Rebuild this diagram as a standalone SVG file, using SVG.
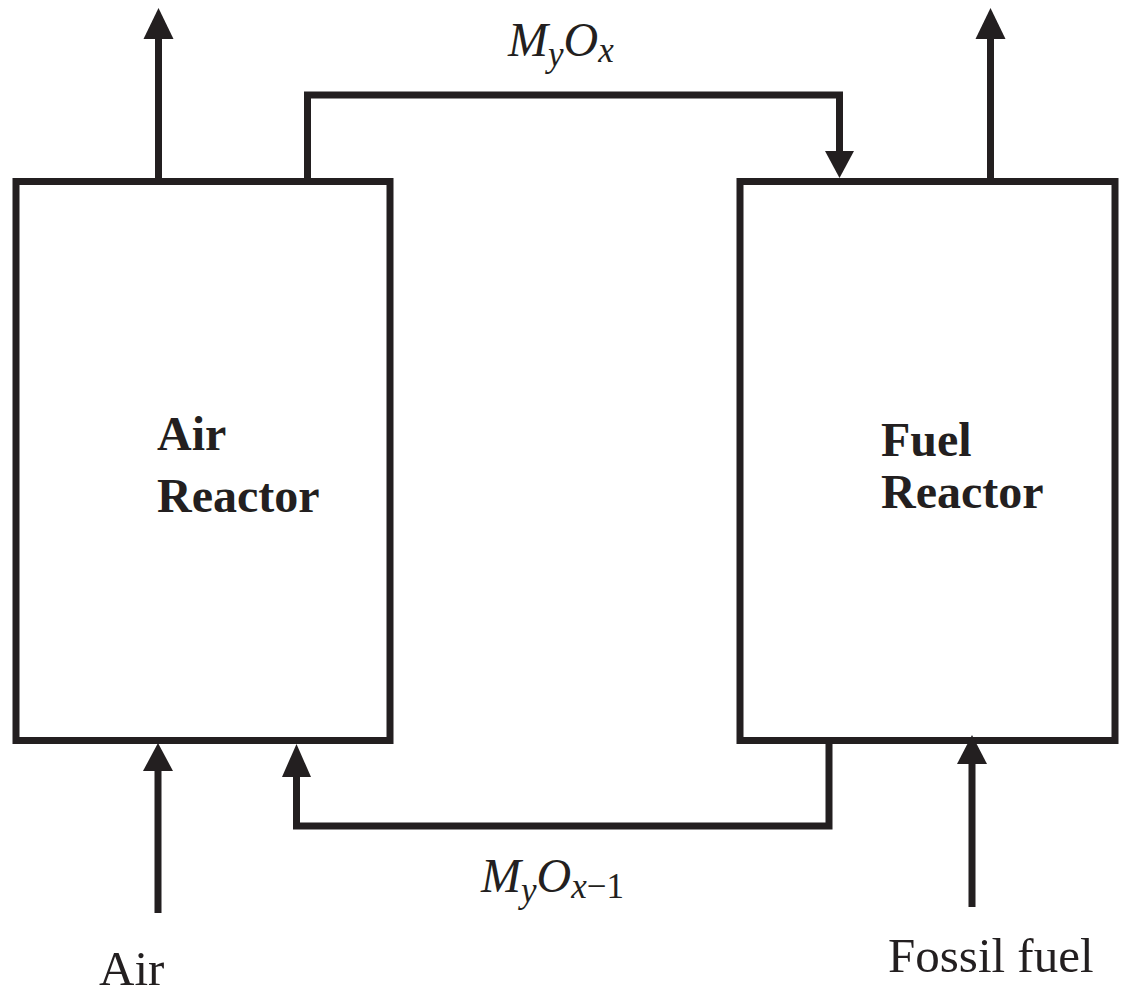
<svg xmlns="http://www.w3.org/2000/svg" width="1124" height="994" viewBox="0 0 1124 994">
<style>
.box{fill:none;stroke:#231f20;stroke-width:7}
.ln{fill:none;stroke:#231f20;stroke-width:7;stroke-linejoin:miter;stroke-linecap:butt}
.hd{fill:#231f20}
.lbl{font-family:"Liberation Serif","Times New Roman",serif;font-size:49px;fill:#231f20}
.bold{font-family:"Liberation Serif","Times New Roman",serif;font-size:48px;font-weight:bold;fill:#231f20}
.it{font-family:"Liberation Serif","Times New Roman",serif;font-style:italic;fill:#231f20}
</style>
<rect width="1124" height="994" fill="#ffffff"/>
<g id="air-reactor">
<rect class="box" x="16" y="181.5" width="374" height="559"/>
<text class="bold" x="157" y="450">Air</text>
<text class="bold" x="157" y="512">Reactor</text>
</g>
<g id="fuel-reactor">
<rect class="box" x="740" y="181.5" width="375" height="559"/>
<text class="bold" x="881" y="456">Fuel</text>
<text class="bold" x="881" y="508">Reactor</text>
</g>
<g id="connectors">
<line class="ln" x1="158.5" y1="181" x2="158.5" y2="38"/>
<polygon class="hd" points="158.5,8 143.5,39 173.5,39"/>
<line class="ln" x1="990.5" y1="181" x2="990.5" y2="38"/>
<polygon class="hd" points="990.5,8 975.5,39 1005.5,39"/>
<polyline class="ln" points="307.5,181 307.5,95 839.5,95 839.5,152"/>
<polygon class="hd" points="839.5,178 825,151 854,151"/>
<polyline class="ln" points="829,741 829,826 296.5,826 296.5,775"/>
<polygon class="hd" points="296.5,744 282,777 311,777"/>
<line class="ln" x1="158" y1="913" x2="158" y2="770"/>
<polygon class="hd" points="158,743 143,771 173,771"/>
<line class="ln" x1="972" y1="907" x2="972" y2="762"/>
<polygon class="hd" points="972,735 957,764 987,764"/>
</g>
<g id="labels">
<text class="it" x="508" y="56" font-size="48">M<tspan font-size="35" dy="10">y</tspan><tspan font-size="48" dy="-10">O</tspan><tspan font-size="35" dy="6">x</tspan></text>
<text class="it" x="481" y="892" font-size="48">M<tspan font-size="35" dy="10">y</tspan><tspan font-size="48" dy="-10">O</tspan><tspan font-size="35" dy="6">x<tspan font-style="normal">−1</tspan></tspan></text>
<text class="lbl" x="99" y="985">Air</text>
<text class="lbl" x="888" y="972">Fossil fuel</text>
</g>
</svg>
